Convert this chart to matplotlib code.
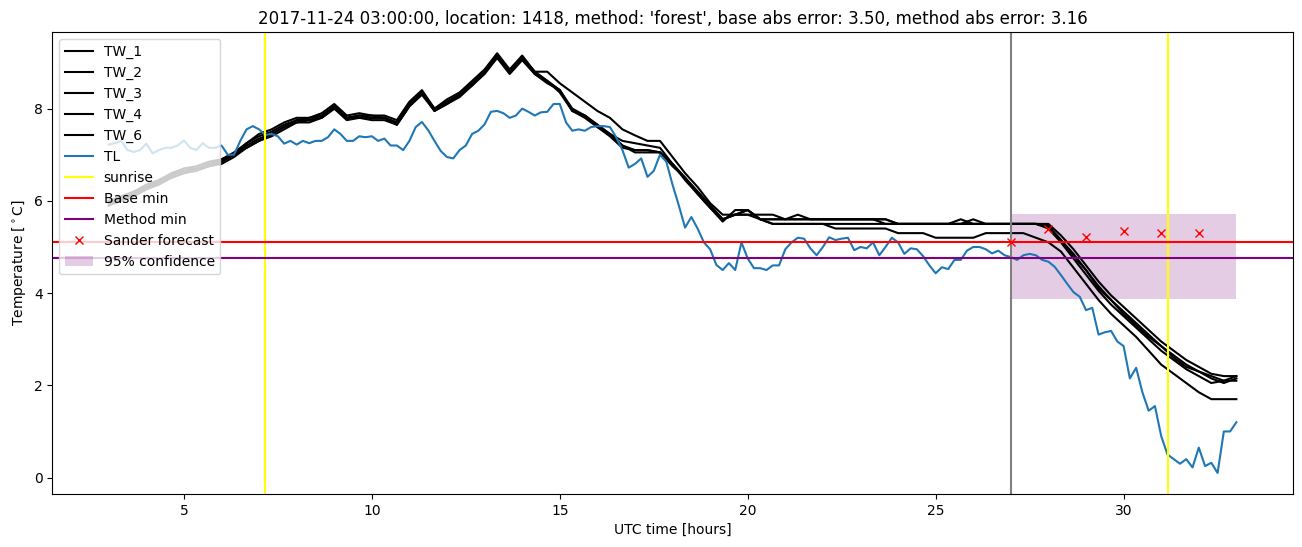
import numpy as np
import matplotlib
matplotlib.use("Agg")
import matplotlib.pyplot as plt

# road temperature sensors, sampled every 20 min from 03:00
tw_labels = ["TW_1", "TW_2", "TW_3", "TW_4", "TW_6"]
tw_1 = [6.0, 6.1, 6.2, 6.35, 6.45, 6.6, 6.7, 6.75, 6.85, 6.9, 7.05, 7.25,
        7.45, 7.55, 7.7, 7.8, 7.8, 7.9, 8.1, 7.85, 7.9, 7.85, 7.85, 7.75,
        8.15, 8.4, 8.0, 8.2, 8.35, 8.6, 8.85, 9.2, 8.85, 9.15, 8.8, 8.8,
        8.55, 8.35, 8.15, 7.95, 7.8, 7.55, 7.42, 7.3, 7.3, 6.95, 6.6, 6.3,
        5.95, 5.7, 5.7, 5.7, 5.7, 5.7, 5.6, 5.6, 5.6, 5.6, 5.6, 5.6,
        5.6, 5.6, 5.6, 5.5, 5.5, 5.5, 5.5, 5.5, 5.5, 5.5, 5.5, 5.5,
        5.5, 5.5, 5.5, 5.5, 5.25, 4.95, 4.6, 4.25, 3.95, 3.7, 3.45, 3.2,
        2.95, 2.75, 2.55, 2.4, 2.25, 2.2, 2.2]
tw_2 = [5.95, 6.05, 6.15, 6.3, 6.4, 6.55, 6.65, 6.7, 6.8, 6.85, 7.0, 7.2,
        7.35, 7.45, 7.6, 7.75, 7.75, 7.85, 8.05, 7.8, 7.85, 7.8, 7.8, 7.7,
        8.1, 8.35, 7.95, 8.15, 8.3, 8.55, 8.8, 9.15, 8.8, 9.1, 8.8, 8.6,
        8.4, 7.95, 7.85, 7.65, 7.45, 7.3, 7.25, 7.2, 7.15, 6.8, 6.5, 6.2,
        5.9, 5.6, 5.7, 5.8, 5.6, 5.6, 5.6, 5.7, 5.6, 5.6, 5.6, 5.6,
        5.6, 5.6, 5.6, 5.5, 5.5, 5.5, 5.5, 5.5, 5.6, 5.5, 5.5, 5.5,
        5.5, 5.5, 5.5, 5.45, 5.15, 4.85, 4.5, 4.15, 3.85, 3.6, 3.35, 3.1,
        2.85, 2.65, 2.45, 2.3, 2.2, 2.1, 2.2]
tw_3 = [5.9, 6.0, 6.1, 6.25, 6.35, 6.5, 6.6, 6.65, 6.75, 6.8, 6.95, 7.15,
        7.3, 7.4, 7.55, 7.7, 7.7, 7.8, 8.0, 7.75, 7.8, 7.75, 7.75, 7.65,
        8.05, 8.3, 7.95, 8.1, 8.25, 8.5, 8.75, 9.1, 8.75, 9.05, 8.75, 8.6,
        8.35, 7.95, 7.85, 7.6, 7.4, 7.15, 7.1, 7.1, 7.05, 6.8, 6.45, 6.15,
        5.85, 5.55, 5.8, 5.8, 5.6, 5.6, 5.6, 5.6, 5.6, 5.6, 5.6, 5.6,
        5.6, 5.6, 5.5, 5.5, 5.5, 5.5, 5.5, 5.5, 5.5, 5.6, 5.5, 5.5,
        5.5, 5.5, 5.5, 5.4, 5.1, 4.75, 4.4, 4.05, 3.75, 3.5, 3.25, 3.0,
        2.75, 2.55, 2.35, 2.2, 2.05, 2.1, 2.1]
tw_4 = [6.0, 6.0, 6.2, 6.3, 6.45, 6.55, 6.7, 6.7, 6.8, 6.9, 7.0, 7.25,
        7.4, 7.5, 7.65, 7.75, 7.8, 7.85, 8.05, 7.8, 7.85, 7.85, 7.8, 7.7,
        8.1, 8.35, 8.0, 8.15, 8.3, 8.55, 8.8, 9.15, 8.8, 9.1, 8.75, 8.55,
        8.4, 8.0, 7.85, 7.65, 7.45, 7.2, 7.1, 7.1, 7.05, 6.8, 6.5, 6.2,
        5.9, 5.6, 5.7, 5.8, 5.6, 5.5, 5.5, 5.5, 5.5, 5.5, 5.5, 5.5,
        5.5, 5.5, 5.5, 5.5, 5.5, 5.5, 5.5, 5.5, 5.5, 5.5, 5.5, 5.5,
        5.5, 5.5, 5.5, 5.45, 5.15, 4.8, 4.5, 4.1, 3.85, 3.55, 3.3, 3.05,
        2.85, 2.6, 2.4, 2.3, 2.15, 2.05, 2.15]
tw_6 = [5.9, 6.05, 6.1, 6.25, 6.4, 6.5, 6.6, 6.7, 6.75, 6.85, 7.0, 7.15,
        7.3, 7.45, 7.6, 7.7, 7.75, 7.8, 8.0, 7.8, 7.8, 7.8, 7.8, 7.65,
        8.05, 8.35, 7.95, 8.1, 8.3, 8.5, 8.8, 9.1, 8.8, 9.1, 8.8, 8.6,
        8.4, 7.95, 7.8, 7.6, 7.45, 7.2, 7.05, 7.05, 7.05, 6.75, 6.5, 6.15,
        5.85, 5.6, 5.7, 5.7, 5.6, 5.5, 5.5, 5.5, 5.5, 5.5, 5.4, 5.4,
        5.4, 5.4, 5.4, 5.3, 5.3, 5.3, 5.2, 5.2, 5.2, 5.2, 5.3, 5.3,
        5.3, 5.3, 5.2, 5.1, 4.9, 4.55, 4.2, 3.85, 3.55, 3.3, 3.05, 2.75,
        2.45, 2.25, 2.05, 1.85, 1.7, 1.7, 1.7]

# air temperature, every 10 min from 03:00
tl = [7.22, 7.25, 7.3, 7.1, 7.06, 7.1,
      7.24, 7.03, 7.1, 7.15, 7.15, 7.2,
      7.31, 7.15, 7.1, 7.25, 7.15, 7.15,
      7.2, 7.0, 7.0, 7.3, 7.55, 7.62,
      7.55, 7.43, 7.45, 7.4, 7.24, 7.3,
      7.22, 7.3, 7.25, 7.3, 7.3, 7.38,
      7.55, 7.45, 7.3, 7.3, 7.4, 7.38,
      7.4, 7.3, 7.35, 7.2, 7.2, 7.1,
      7.3, 7.6, 7.71, 7.53, 7.3, 7.08,
      6.95, 6.92, 7.1, 7.2, 7.45, 7.52,
      7.66, 7.93, 7.95, 7.9, 7.8, 7.85,
      8.0, 7.93, 7.85, 7.92, 7.93, 8.1,
      8.1, 7.7, 7.52, 7.55, 7.52, 7.6,
      7.62, 7.62, 7.6, 7.38, 7.1, 6.72,
      6.8, 6.92, 6.52, 6.65, 7.0, 6.85,
      6.35, 5.9, 5.42, 5.65, 5.4, 5.1,
      4.95, 4.61, 4.5, 4.65, 4.5, 5.1,
      4.75, 4.54, 4.54, 4.5, 4.6, 4.6,
      4.95, 5.1, 5.2, 5.18, 4.97, 4.82,
      5.0, 5.21, 5.15, 5.18, 5.2, 4.93,
      5.0, 4.97, 5.1, 4.82, 5.0, 5.2,
      5.1, 4.85, 4.97, 4.95, 4.8, 4.6,
      4.43, 4.56, 4.52, 4.72, 4.72, 4.92,
      5.0, 5.0, 4.95, 4.86, 4.92, 4.82,
      4.78, 4.72, 4.82, 4.85, 4.82, 4.72,
      4.68, 4.57, 4.39, 4.2, 4.02, 3.92,
      3.63, 3.68, 3.1, 3.15, 3.18, 2.95,
      2.85, 2.15, 2.38, 1.85, 1.45, 1.55,
      0.9, 0.5, 0.4, 0.3, 0.4, 0.22,
      0.65, 0.25, 0.32, 0.1, 1.0, 1.0,
      1.2]

sunrise = [7.15, 31.17]
now = 27.0
base_min = 5.1
method_min = 4.76
forecast_t = [27, 28, 29, 30, 31, 32]
forecast_v = [5.1, 5.4, 5.22, 5.35, 5.31, 5.31]
conf_t = [27, 33]
conf_lo = 3.88
conf_hi = 5.71

t_tw = 3 + np.arange(len(tw_1)) / 3
t_tl = 3 + np.arange(len(tl)) / 6

fig, ax = plt.subplots(figsize=(13.02, 5.47), dpi=100)
fig.subplots_adjust(left=0.0402, right=0.9929, bottom=0.097, top=0.941)

for lab, tw in zip(tw_labels, [tw_1, tw_2, tw_3, tw_4, tw_6]):
    ax.plot(t_tw, tw, color='black', label=lab)
ax.plot(t_tl, tl, color='C0', label='TL')
ax.axvline(sunrise[0], color='yellow', label='sunrise')
ax.axvline(sunrise[1], color='yellow')
ax.axvline(now, color='gray')
ax.axhline(base_min, color='red', label='Base min')
ax.axhline(method_min, color='purple', label='Method min')
ax.plot(forecast_t, forecast_v, 'x', color='red', label='Sander forecast')
ax.fill_between(conf_t, conf_lo, conf_hi, color='purple', alpha=0.2, linewidth=0,
                label='95% confidence')

ax.set_title("2017-11-24 03:00:00, location: 1418, method: 'forest', "
             "base abs error: 3.50, method abs error: 3.16")
ax.set_xlabel('UTC time [hours]')
ax.set_ylabel(r'Temperature [$^\circ$C]')
ax.legend(loc='upper left')

fig.savefig('out.png')
